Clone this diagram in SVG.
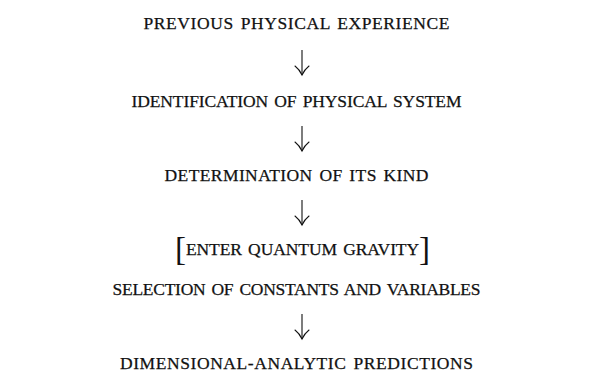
<svg xmlns="http://www.w3.org/2000/svg" width="593" height="378" viewBox="0 0 593 378">
<style>
.t{font-family:"Liberation Serif","Times New Roman",serif;font-size:17.5px;fill:#111;stroke:#111;stroke-width:0.25;text-anchor:middle;word-spacing:2px}
.br{font-size:33px;stroke-width:0}
.sh{stroke:#111;stroke-width:1.1;fill:none}
.hd{stroke:#111;stroke-width:1.1;fill:none;stroke-linecap:round}
</style>
<rect width="593" height="378" fill="#fff"/>
<g id="n1"><text class="t" x="296.5" y="29" textLength="306">PREVIOUS PHYSICAL EXPERIENCE</text></g>
<g id="n2"><text class="t" x="296.5" y="107" textLength="330">IDENTIFICATION OF PHYSICAL SYSTEM</text></g>
<g id="n3"><text class="t" x="296.5" y="181" textLength="264">DETERMINATION OF ITS KIND</text></g>
<g id="n4"><text class="t" x="302.5" y="255" textLength="255"><tspan class="br" dy="5">[</tspan><tspan dy="-5">ENTER QUANTUM GRAVITY</tspan><tspan class="br" dy="5">]</tspan></text></g>
<g id="n5"><text class="t" x="296.5" y="295" textLength="368">SELECTION OF CONSTANTS AND VARIABLES</text></g>
<g id="n6"><text class="t" x="296.5" y="369" textLength="353">DIMENSIONAL-ANALYTIC PREDICTIONS</text></g>
<g id="connectors">
<path class="sh" d="M302,50 V75"/><path class="hd" d="M295,66 Q299.5,69.5 302,75 Q304.5,69.5 309,66"/>
<path class="sh" d="M302,126 V151"/><path class="hd" d="M295,142 Q299.5,145.5 302,151 Q304.5,145.5 309,142"/>
<path class="sh" d="M302,200 V225"/><path class="hd" d="M295,216 Q299.5,219.5 302,225 Q304.5,219.5 309,216"/>
<path class="sh" d="M302,314 V339"/><path class="hd" d="M295,330 Q299.5,333.5 302,339 Q304.5,333.5 309,330"/>
</g>
</svg>
